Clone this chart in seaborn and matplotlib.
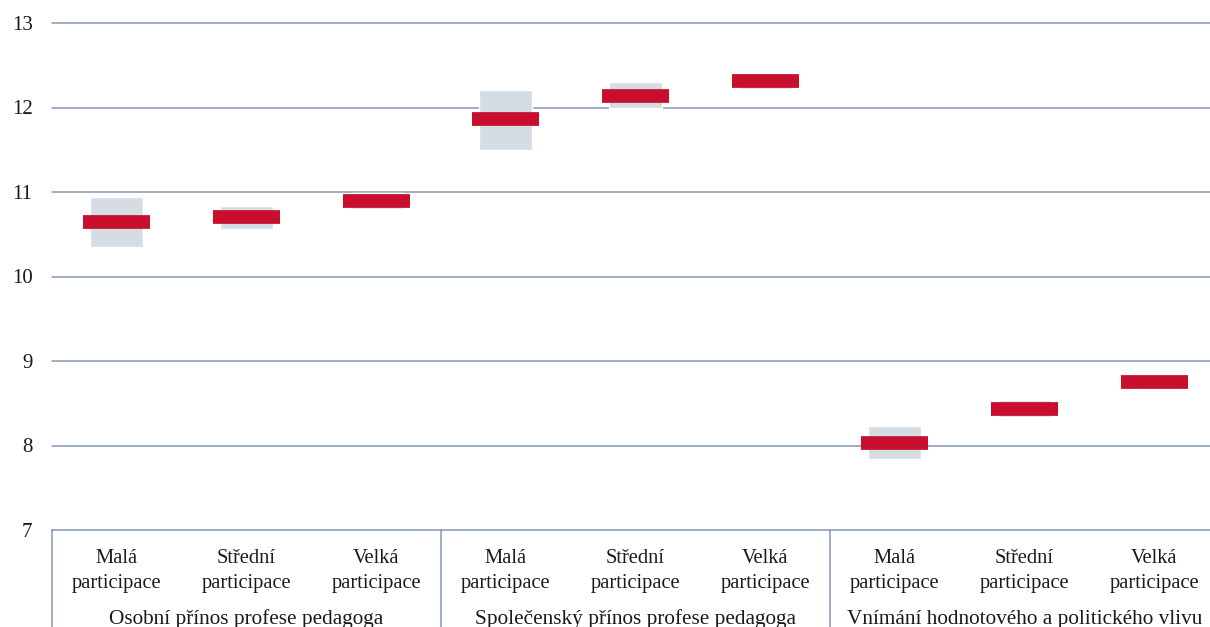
"""
Mean scores with confidence ranges by participation level, three scales.
"""

import matplotlib.pyplot as plt
import matplotlib.transforms as mtransforms
import numpy as np
import seaborn as sns

# --- data ---
level_top = ['Malá', 'Střední', 'Velká']
level_bottom = 'participace'
groups = ['Osobní přínos profese pedagoga',
          'Společenský přínos profese pedagoga',
          'Vnímání hodnotového a politického vlivu']
means = [10.65, 10.70, 10.89,
         11.86, 12.14, 12.31,
         8.03, 8.43, 8.75]
ci_low = [10.35, 10.56, 10.80,
          11.50, 11.99, 12.22,
          7.84, 8.34, 8.70]
ci_high = [10.94, 10.83, 10.99,
           12.21, 12.30, 12.41,
           8.23, 8.54, 8.80]
y_ticks = [7, 8, 9, 10, 11, 12, 13]

RED = '#C8102E'
GREY = '#D5DCE4'
LINE = '#8497B5'
TEXT = '#1a1a1a'
FS = 14.8

sns.set_theme(style='white')
plt.rcParams['font.family'] = ['Liberation Serif', 'DejaVu Serif']

fig = plt.figure(figsize=(12.10, 6.27), dpi=100)
ax = fig.add_axes([52 / 1210, 1 - 530 / 627, 1167 / 1210, 507 / 627])

pos = np.arange(len(means))
heights = np.array(ci_high) - np.array(ci_low)
ax.bar(pos, heights, bottom=ci_low, width=0.41, color=GREY, zorder=2)
ax.hlines(means, pos - 0.258, pos + 0.258, colors=RED, linewidth=9.9, zorder=3)

ax.set_xlim(-0.5, len(means) - 0.5)
ax.set_ylim(7, 13)
ax.set_yticks(y_ticks)
ax.set_yticklabels([str(t) for t in y_ticks], fontsize=15, color=TEXT)
ax.tick_params(axis='y', length=0, pad=14)
ax.set_xticks([])
for t in y_ticks[1:]:
    ax.axhline(t, color=LINE, linewidth=1.1, zorder=1, clip_on=False)

for side in ['top', 'right', 'left']:
    ax.spines[side].set_visible(False)
ax.spines['bottom'].set_color(LINE)
ax.spines['bottom'].set_linewidth(1.1)

# category table below the axis
trans = mtransforms.blended_transform_factory(ax.transData, ax.transAxes)
for xv in [-0.5, 2.5, 5.5]:
    ax.axvline(xv, ymin=-0.2, ymax=0, color=LINE, linewidth=1.1, clip_on=False)

for i in pos:
    ax.text(i, -0.0651, level_top[i % 3], transform=trans, ha='center',
            va='baseline', fontsize=FS, color=TEXT)
    ax.text(i, -0.1144, level_bottom, transform=trans, ha='center',
            va='baseline', fontsize=FS, color=TEXT)
for g, name in enumerate(groups):
    ax.text(g * 3 + 1, -0.1854, name, transform=trans, ha='center',
            va='baseline', fontsize=15.3, color=TEXT)

fig.savefig('out.png', dpi=100)
